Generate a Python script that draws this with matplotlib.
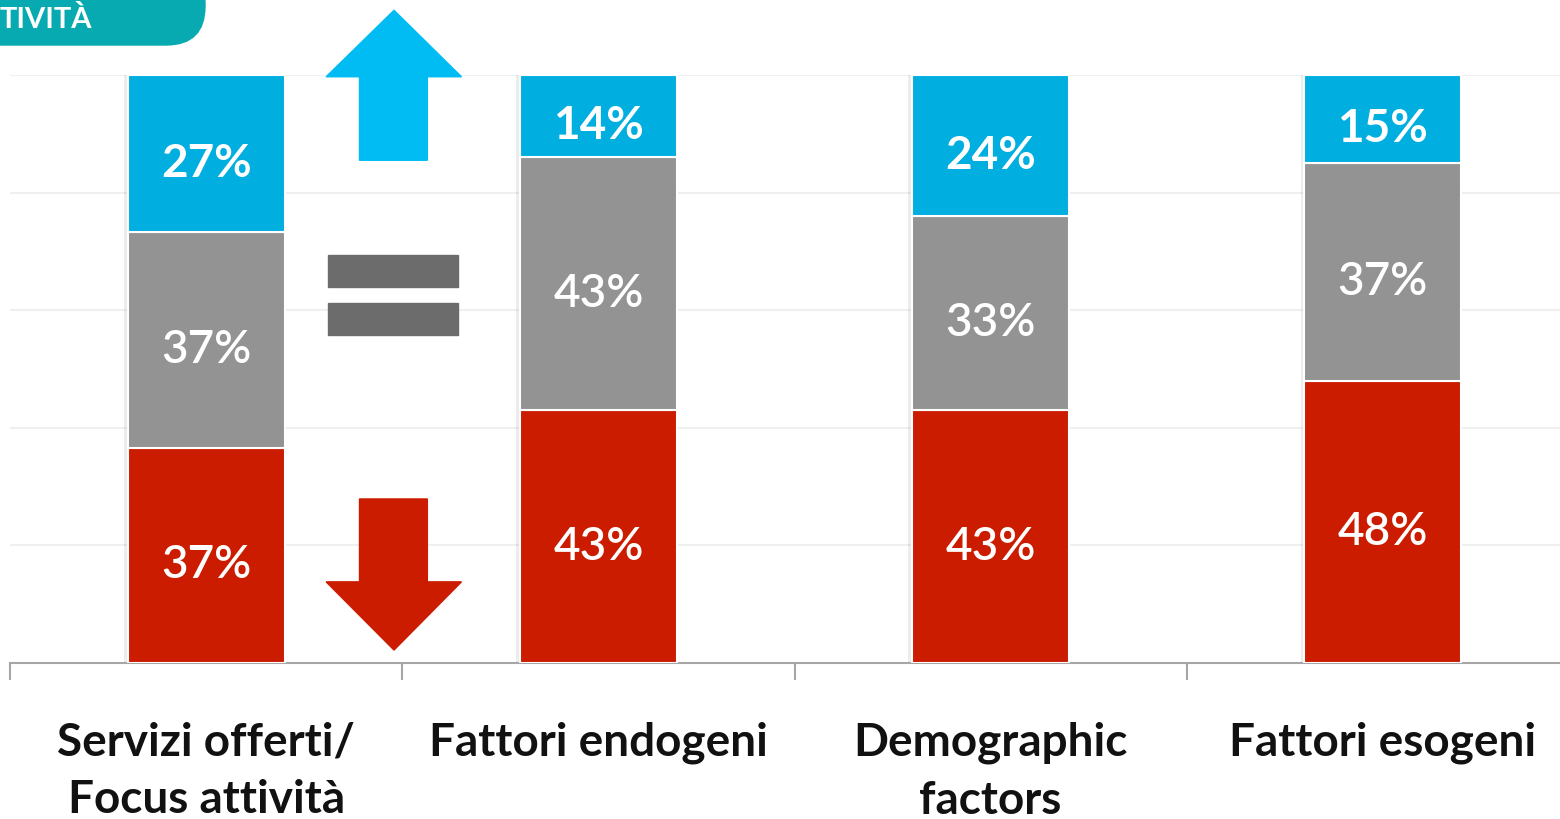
import numpy as np
import matplotlib.pyplot as plt
from matplotlib.patches import Polygon, Rectangle, FancyBboxPatch

plt.rcParams['font.family'] = ['Lato', 'DejaVu Sans']

categories = ["Servizi offerti/\nFocus attività", "Fattori endogeni",
              "Demographic\nfactors", "Fattori esogeni"]
calo = [37, 43, 43, 48]
stabile = [37, 43, 33, 37]
crescita = [27, 14, 24, 15]

RED = "#cc1c00"
GRAY = "#939393"
BLUE = "#00aee0"
ARROW_BLUE = "#00bcf2"
EQ_GRAY = "#6c6c6c"
TEAL = "#06aab0"

fig = plt.figure(figsize=(15.6, 8.19), dpi=100)
ax = fig.add_axes([10 / 1560, 156 / 819, 1569 / 1560, 588 / 819])

x = np.arange(len(categories))
tot = np.array(calo) + np.array(stabile) + np.array(crescita)
h_red = np.array(calo) / tot
h_gray = np.array(stabile) / tot
h_blue = np.array(crescita) / tot
w = 0.4

# leggera ombra a sinistra delle barre
ax.bar(x - 0.01, np.ones(len(x)), w, color="#000000", alpha=0.07, zorder=2)

ax.bar(x, h_red, w, color=RED, edgecolor="white", linewidth=1.5, zorder=3)
ax.bar(x, h_gray, w, bottom=h_red, color=GRAY, edgecolor="white", linewidth=1.5, zorder=3)
ax.bar(x, h_blue, w, bottom=h_red + h_gray, color=BLUE, edgecolor="white", linewidth=1.5, zorder=3)

off = -0.017  # i numeri nel riferimento stanno un po' più in basso
for i in range(len(x)):
    ax.text(x[i], h_red[i] / 2 + off, "%d%%" % calo[i], ha="center", va="center",
            color="white", fontsize=33, fontweight="semibold", zorder=4)
    ax.text(x[i], h_red[i] + h_gray[i] / 2 + off, "%d%%" % stabile[i], ha="center",
            va="center", color="white", fontsize=33, fontweight="semibold", zorder=4)
    ax.text(x[i], h_red[i] + h_gray[i] + h_blue[i] / 2 + off, "%d%%" % crescita[i],
            ha="center", va="center", color="white", fontsize=33, fontweight="bold", zorder=4)

# frecce e simbolo uguale
cx = 0.479
up = [(cx, 1.11), (0.651, 0.997), (0.564, 0.997), (0.564, 0.855),
      (0.391, 0.855), (0.391, 0.997), (0.306, 0.997)]
ax.add_patch(Polygon(up, closed=True, color=ARROW_BLUE, clip_on=False, zorder=3))
down = [(cx, 0.022), (0.651, 0.138), (0.564, 0.138), (0.564, 0.279),
        (0.391, 0.279), (0.391, 0.138), (0.306, 0.138)]
ax.add_patch(Polygon(down, closed=True, color=RED, clip_on=False, zorder=3))
ax.add_patch(Rectangle((0.311, 0.639), 0.332, 0.055, color=EQ_GRAY, zorder=3))
ax.add_patch(Rectangle((0.311, 0.558), 0.332, 0.055, color=EQ_GRAY, zorder=3))

ax.set_xlim(-0.5, 3.5)
ax.set_ylim(0, 1)
ax.set_yticks([0.2, 0.4, 0.6, 0.8, 1.0])
ax.yaxis.grid(True, color="#efefef", linewidth=1.5)
ax.set_axisbelow(True)
ax.tick_params(axis="y", left=False, labelleft=False)
for s in ["top", "right", "left"]:
    ax.spines[s].set_visible(False)
ax.spines["bottom"].set_color("#a6a6a6")
ax.spines["bottom"].set_linewidth(1.5)

ax.set_xticks([-0.5, 0.5, 1.5, 2.5, 3.5])
ax.set_xticklabels([])
ax.tick_params(axis="x", length=12, width=1.5, color="#a6a6a6")
for i, c in enumerate(categories):
    ax.text(x[i], -0.1, c, ha="center", va="top", fontsize=33, fontweight="bold",
            color="#111111", linespacing=1.45, transform=ax.get_xaxis_transform())

# linguetta in alto a sinistra
tab = FancyBboxPatch((-40 / 1560, 774 / 819), 245 / 1560, 80 / 819,
                     boxstyle="round,pad=0,rounding_size=0.025",
                     transform=fig.transFigure, color=TEAL, mutation_aspect=1560 / 819)
fig.patches.append(tab)
fig.text(0 / 1560, 800 / 819, "TIVITÀ", ha="left", va="center", color="white",
         fontsize=21, fontweight="bold")

fig.savefig("out.png", dpi=100)
